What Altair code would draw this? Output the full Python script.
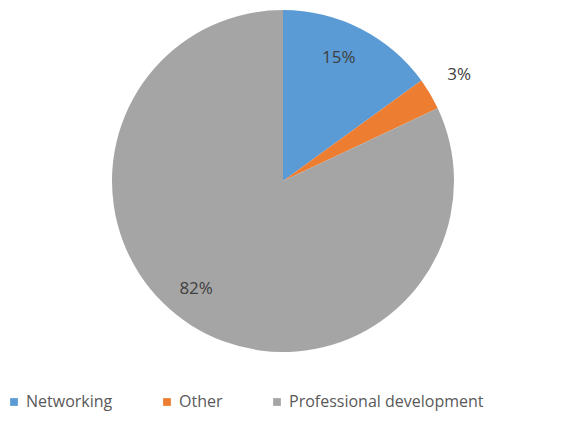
import altair as alt
import pandas as pd

categories = ["Networking", "Other", "Professional development"]
values = [15, 3, 82]
labels = ["15%", "3%", "82%"]
colors = ["#5B9BD5", "#ED7D31", "#A5A5A5"]

df = pd.DataFrame({"cat": categories, "val": values, "lab": labels, "ord": [0, 1, 2]})

cx, cy = 275, 173


def label_layer(cat, radius, dx, dy):
    return alt.Chart(df).mark_text(
        radius=radius, dx=dx, dy=dy, fontSize=17, font="Open Sans", color="#404040"
    ).encode(
        theta=alt.Theta("val:Q", stack=True),
        order=alt.Order("ord:Q"),
        x=alt.value(cx), y=alt.value(cy),
        text=alt.condition(alt.datum.cat == cat, "lab:N", alt.value("")),
    )


pie = alt.Chart(df).mark_arc(outerRadius=171).encode(
    theta=alt.Theta("val:Q", stack=True),
    order=alt.Order("ord:Q"),
    x=alt.value(cx), y=alt.value(cy),
    color=alt.Color(
        "cat:N",
        scale=alt.Scale(domain=categories, range=colors),
        legend=alt.Legend(
            title=None, orient="none", direction="horizontal",
            legendX=-2, legendY=386,
            symbolType="square", symbolSize=60, symbolStrokeWidth=0,
            labelFontSize=16, labelColor="#595959", labelFont="Open Sans",
            labelLimit=0,
            columnPadding=46, symbolOffset=0, labelOffset=4,
        ),
    ),
)

chart = alt.layer(
    pie,
    label_layer("Networking", 136, -6, -2),
    label_layer("Other", 193, 10, -8),
    label_layer("Professional development", 136, -14, -7),
).properties(
    width=549, height=426, autosize="none", padding=0
).configure_view(stroke=None)

chart.save("out.html", embed_options={"renderer": "svg", "actions": False})
